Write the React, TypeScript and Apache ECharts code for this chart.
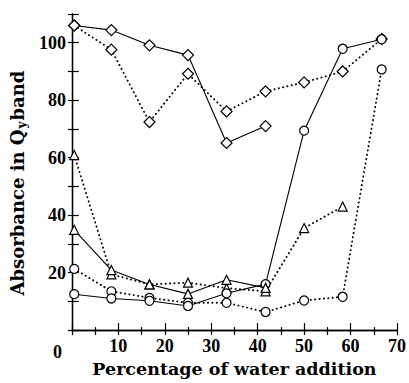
import React, { useEffect, useRef } from "react";
import * as echarts from "echarts";

const waterPct = [0.5, 8.5, 16.7, 25, 33.3, 41.7, 50, 58.3, 66.7];
const diamondSolid = [106, 104.4, 99.1, 95.7, 65.1, 71.0];
const diamondDotted = [106, 97.6, 72.4, 89.2, 76.1, 83.1, 86.2, 90.0, 101.3];
const circleSolid = [12.5, 11.0, 10.2, 8.4, 12.8, 16.0, 69.4, 97.9, 101.2];
const circleDotted = [21.3, 13.5, 11.2, 9.5, 9.5, 6.3, 10.3, 11.6, 90.7];
const triangleSolid = [34.9, 20.9, 15.9, 12.6, 17.5, 14.7];
const triangleDotted = [60.9, 19.4, 15.9, 16.5, 14.6, 13.5, 35.5, 43.0];
const yLabelValues = [20, 40, 60, 80, 100];

const tickFont = "Liberation Serif";
const nameFont = "DejaVu Serif";

function pairs(vals: number[]) {
  return vals.map((v, i) => [waterPct[i], v]);
}

export default function App() {
  const ref = useRef<HTMLDivElement>(null);
  useEffect(() => {
    document.body.style.margin = "0";
    if (!ref.current) return;
    const chart = echarts.init(ref.current, undefined, { renderer: "svg" });
    const mk = (name: string, vals: number[], symbol: string, dotted: boolean, size: number) => ({
      name,
      type: "line",
      data: pairs(vals),
      symbol,
      symbolSize: size,
      clip: false,
      itemStyle: { color: "#fff", borderColor: "#000", borderWidth: 1.2 },
      lineStyle: dotted
        ? { color: "#000", width: 1.9, type: [0.2, 4.2], cap: "round" }
        : { color: "#000", width: 1.1, type: "solid" },
    });
    chart.setOption({
      animation: false,
      backgroundColor: "#fff",
      grid: { left: 69, right: 10, top: 14, bottom: 44 },
      xAxis: [
        {
          type: "value",
          position: "bottom",
          min: 0,
          max: 70,
          interval: 10,
          axisLine: { show: true, lineStyle: { color: "#000", width: 1.3 } },
          axisTick: { show: true, inside: true, length: 7, lineStyle: { color: "#000", width: 1.2 } },
          minorTick: { show: true, splitNumber: 2, length: 3, lineStyle: { color: "#000", width: 1.2 } },
          splitLine: { show: false },
          axisLabel: {
            showMinLabel: false,
            margin: 7,
            color: "#000",
            fontFamily: tickFont,
            fontWeight: "bold",
            fontSize: 18,
          },
          name: "Percentage of water addition",
          nameLocation: "middle",
          nameGap: 23,
          nameTextStyle: { color: "#000", fontFamily: nameFont, fontWeight: "bold", fontSize: 17.5 },
        },
        {
          type: "value",
          position: "top",
          min: 0,
          max: 70,
          interval: 5,
          axisLine: { show: true, lineStyle: { color: "#000", width: 1.3 } },
          axisTick: { show: true, inside: true, length: 5, lineStyle: { color: "#000", width: 1.2 } },
          splitLine: { show: false },
          axisLabel: { show: false },
        },
      ],
      yAxis: [
        {
          type: "value",
          position: "left",
          min: 0,
          max: 110,
          interval: 10,
          axisLine: { show: true, lineStyle: { color: "#000", width: 1.3 } },
          axisTick: { show: true, inside: true, length: 7, lineStyle: { color: "#000", width: 1.2 } },
          splitLine: { show: false },
          axisLabel: {
            margin: 6,
            color: "#000",
            fontFamily: tickFont,
            fontWeight: "bold",
            fontSize: 18,
            formatter: (v: number) => (yLabelValues.includes(v) ? String(v) : ""),
          },
          name: "{a|Absorbance in Q}{s|y}{a|band}",
          nameLocation: "middle",
          nameGap: 42,
          nameRotate: 90,
          nameTextStyle: {
            color: "#000",
            padding: [0, 22, 0, 0],
            rich: {
              a: { fontFamily: nameFont, fontWeight: "bold", fontSize: 18, color: "#000" },
              s: { fontFamily: nameFont, fontWeight: "bold", fontSize: 12, color: "#000", padding: [10, 1, 0, 1] },
            },
          },
        },
        {
          type: "value",
          position: "right",
          min: 0,
          max: 110,
          interval: 10,
          axisLine: { show: true, lineStyle: { color: "#000", width: 1.3 } },
          axisTick: { show: true, inside: true, length: 4, lineStyle: { color: "#000", width: 1.2 } },
          splitLine: { show: false },
          axisLabel: { show: false },
        },
      ],
      graphic: [
        {
          type: "text",
          left: 53,
          top: 343,
          style: { text: "0", fill: "#000", font: `bold 18px ${tickFont}` },
        },
      ],
      series: [
        mk("diamond dotted", diamondDotted, "diamond", true, 11),
        mk("circle dotted", circleDotted, "circle", true, 9),
        mk("triangle dotted", triangleDotted, "triangle", true, 9),
        mk("diamond solid", diamondSolid, "diamond", false, 11),
        mk("circle solid", circleSolid, "circle", false, 9),
        mk("triangle solid", triangleSolid, "triangle", false, 9),
      ],
    });
    return () => chart.dispose();
  }, []);
  return <div ref={ref} style={{ width: 409, height: 383 }} />;
}
